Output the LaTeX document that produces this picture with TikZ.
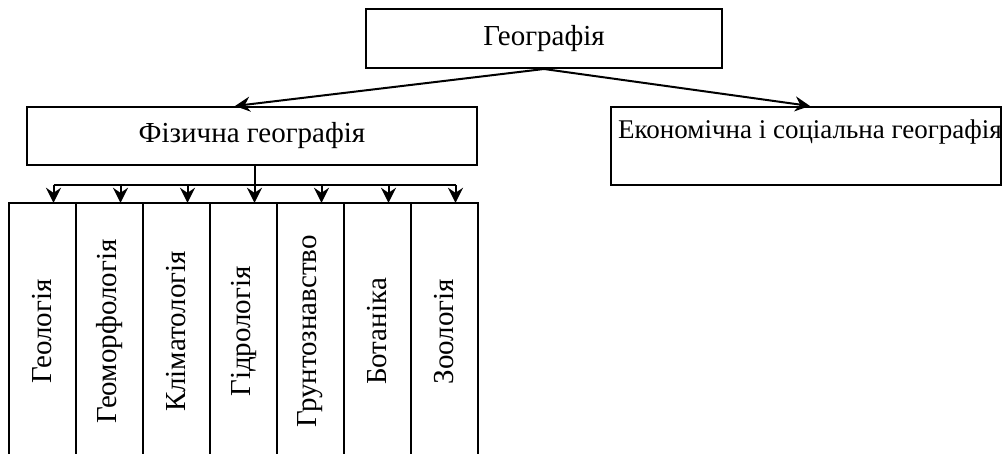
\documentclass[tikz,border=0pt]{standalone}
\usepackage{fontspec}
\setmainfont{Liberation Serif}
\usetikzlibrary{arrows.meta}
\tikzset{
  box/.style={draw, line width=2pt, inner sep=0pt},
  line/.style={line width=2pt},
  link/.style={line width=2pt, -{Stealth[length=15pt,width=15pt,inset=5pt]}},
  txt/.style={font=\fontsize{29}{34}\selectfont, inner sep=0pt}
}
\begin{document}
\begin{tikzpicture}[x=1pt,y=1pt,yscale=-1]
\useasboundingbox (0,0) rectangle (1003,454);

%Shape: top box
\node[box,txt,minimum width=356,minimum height=59] (geo) at (544,38.5) {Географія};
%Shape: physical geography
\node[box,txt,minimum width=450,minimum height=58] (phys) at (252,136) {Фізична географія};
%Shape: economic geography
\node[box,minimum width=390,minimum height=78] (econ) at (806,146) {};
\node[txt,font=\fontsize{27}{32}\selectfont] (econtxt) at (810,132) {Економічна і соціальна географія};

%Straight Lines: from the top box
\draw[link] (geo.south) -- ([xshift=-17]phys.north);
\draw[link] (geo.south) -- ([xshift=4]econ.north);

%Shape: columns
\foreach \name [count=\i] in {Геологія,Геоморфологія,Кліматологія,Гідрологія,Грунтознавство,Ботаніка,Зоологія}{
  \node[minimum width=67,minimum height=257,inner sep=0pt] (col\i) at ({42.5+67*(\i-1)},331.5) {};
  \draw[line] (col\i.south west) |- (col\i.north east) -- (col\i.south east);
  \node[txt,rotate=90] at (col\i) {\name};
  \draw[link] ([shift={(11,-18)}]col\i.north) -- ([xshift=11]col\i.north);
}

%Straight Lines: fork
\draw[line] ([xshift=3]phys.south) -- ++(0,20);
\draw[line] ([shift={(11,-18)}]col1.north) -- ([shift={(11,-18)}]col7.north);

\end{tikzpicture}
\end{document}
